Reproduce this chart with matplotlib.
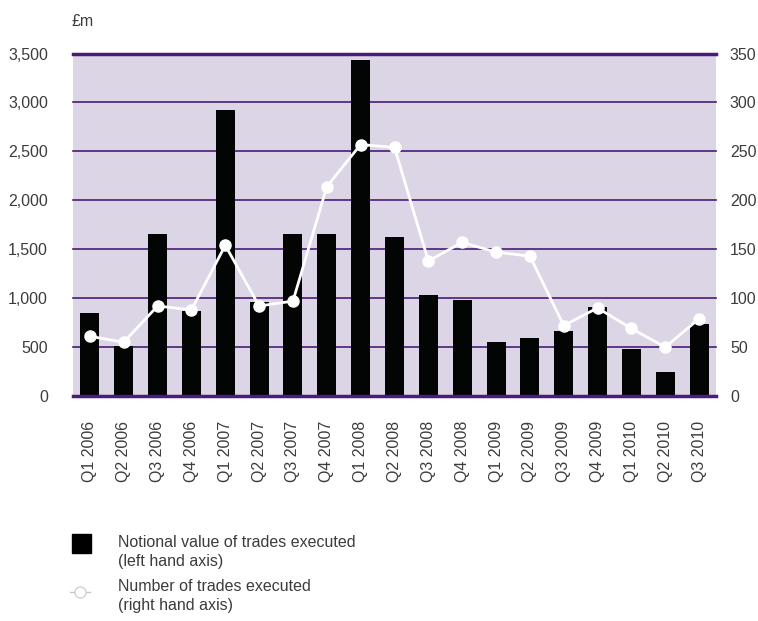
import numpy as np
import matplotlib
matplotlib.use("Agg")
import matplotlib.pyplot as plt
from matplotlib.patches import Rectangle
from matplotlib.lines import Line2D
from matplotlib.ticker import FuncFormatter

# quarters on the x axis
quarters = ["Q1 2006", "Q2 2006", "Q3 2006", "Q4 2006",
            "Q1 2007", "Q2 2007", "Q3 2007", "Q4 2007",
            "Q1 2008", "Q2 2008", "Q3 2008", "Q4 2008",
            "Q1 2009", "Q2 2009", "Q3 2009", "Q4 2009",
            "Q1 2010", "Q2 2010", "Q3 2010"]

# notional value of trades executed, GBP m (left axis)
notional = [850, 510, 1655, 870, 2920, 960, 1655, 1655, 3430,
            1620, 1030, 980, 550, 590, 665, 910, 480, 245, 735]

# number of trades executed (right axis)
n_trades = [61, 55, 92, 88, 154, 92, 97, 214, 257,
            254, 138, 157, 147, 143, 72, 90, 69, 50, 79]

left_ticks = [0, 500, 1000, 1500, 2000, 2500, 3000, 3500]
right_ticks = [0, 50, 100, 150, 200, 250, 300, 350]

purple = "#4a1c78"
lavender = "#dcd5e6"
txt = "#3c3c3c"
fs = 11.5

plt.rcParams['font.family'] = ['Liberation Sans', 'DejaVu Sans']

fig = plt.figure(figsize=(7.58, 6.21), dpi=100)
ax = fig.add_axes([0.0963, 0.3623, 0.8483, 0.5515])
ax.set_facecolor(lavender)

x = np.arange(len(quarters))
ax.bar(x, notional, width=0.56, color="#030404", zorder=3)

ax.set_xlim(-0.5, len(quarters) - 0.5)
ax.set_ylim(0, 3500)
ax.set_yticks(left_ticks)
ax.yaxis.set_major_formatter(FuncFormatter(lambda v, p: "{:,.0f}".format(v)))
ax.set_xticks(x)
ax.set_xticklabels(quarters, rotation=90)
ax.tick_params(axis="both", length=0, labelsize=fs, colors=txt)
ax.tick_params(axis="x", pad=18)
ax.tick_params(axis="y", pad=18)

for s in ax.spines.values():
    s.set_visible(False)

for v in left_ticks:
    lw = 2.5 if v in (0, 3500) else 1.2
    ax.axhline(v, color=purple, lw=lw, zorder=2 if v != 0 else 4, clip_on=False)

ax2 = ax.twinx()
ax2.set_ylim(0, 350)
ax2.set_yticks(right_ticks)
ax2.tick_params(axis="y", length=0, labelsize=fs, colors=txt, pad=10)
for s in ax2.spines.values():
    s.set_visible(False)
ax2.plot(x, n_trades, color="white", lw=2, marker="o", markersize=8,
         markerfacecolor="white", markeredgecolor="white", zorder=5)

fig.text(72 / 758, 1 - 21 / 621, "£m", fontsize=fs, color=txt, ha="left", va="center")

# legend
fig.add_artist(Rectangle((72 / 758, 1 - 553 / 621), 19 / 758, 19 / 621,
                         transform=fig.transFigure, color="black"))
fig.text(118 / 758, 1 - 552 / 621, "Notional value of trades executed\n(left hand axis)",
         fontsize=fs, color=txt, ha="left", va="center", linespacing=1.3)
fig.add_artist(Line2D([70 / 758, 90 / 758], [1 - 592 / 621, 1 - 592 / 621],
                      transform=fig.transFigure, color="#c8c8c8", lw=1, zorder=1))
fig.add_artist(Line2D([80 / 758], [1 - 592 / 621], transform=fig.transFigure,
                      marker="o", markersize=8, markerfacecolor="white",
                      markeredgecolor="#c8c8c8", markeredgewidth=0.8, lw=0))
fig.text(118 / 758, 1 - 596 / 621, "Number of trades executed\n(right hand axis)",
         fontsize=fs, color=txt, ha="left", va="center", linespacing=1.3)

fig.savefig("out.png", dpi=100)
